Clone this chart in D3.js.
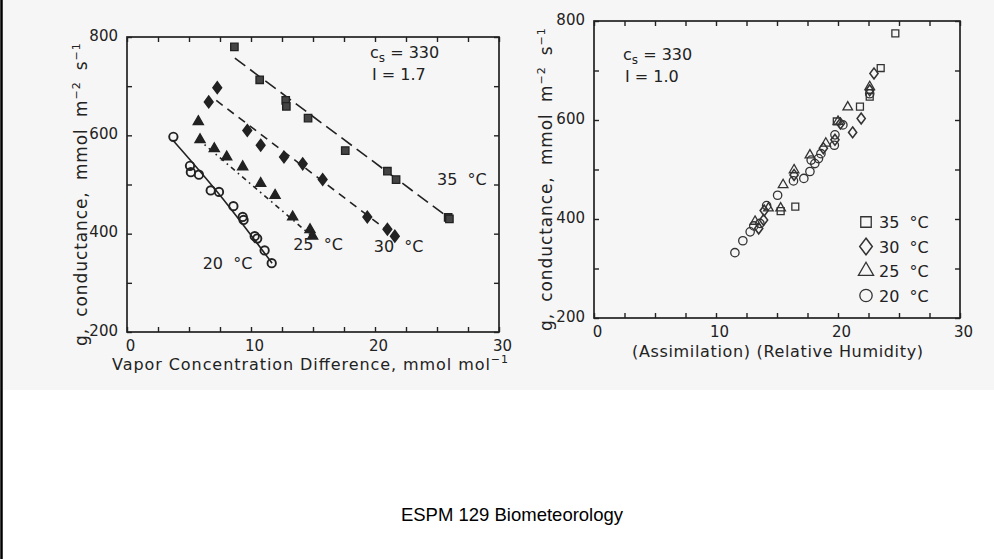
<!DOCTYPE html>
<html><head><meta charset="utf-8">
<script src="https://cdn.jsdelivr.net/npm/d3@7"></script>
<style>
html,body{margin:0;padding:0;background:#fff;}
svg{display:block;}
text{font-family:"DejaVu Sans",sans-serif;fill:#222;}
</style></head>
<body>
<svg id="chart" width="994" height="559"></svg>
<script>
// ---------- data ----------
const xTicks = [0, 2.5, 5, 7.5, 10, 12.5, 15, 17.5, 20, 22.5, 25, 27.5, 30];
const xTickLabels = [0, 10, 20, 30];
const yTicks = [200, 300, 400, 500, 600, 700, 800];
const yTickLabels = [200, 400, 600, 800];
const seriesNames = ["35 °C", "30 °C", "25 °C", "20 °C"];

// Left panel: conductance vs vapor concentration difference
const left35X = [8.66, 10.7, 12.8, 12.85, 14.6, 17.6, 21.0, 21.7, 25.9, 26.0];
const left35Y = [780, 713, 671, 659, 635, 569, 527, 510, 433, 430];
const left30X = [6.59, 7.28, 9.70, 10.78, 12.66, 14.17, 15.78, 19.38, 21.0, 21.6];
const left30Y = [668, 697, 610, 580, 556, 542, 510, 434, 409, 395];
const left25X = [5.75, 5.89, 7.04, 8.04, 9.33, 10.78, 11.94, 13.36, 14.76, 14.97];
const left25Y = [628, 591, 573, 556, 536, 502, 478, 434, 408, 395];
const left20X = [3.74, 5.08, 5.15, 5.8, 6.75, 7.42, 8.58, 9.33, 9.4, 10.3, 10.5, 11.1, 11.67];
const left20Y = [597, 538, 525, 520, 488, 485, 456, 434, 428, 395, 390, 366, 340];

// Left panel fitted lines
const fit35X = [8.7, 25.9];  const fit35Y = [757, 433];
const fit30X = [7.2, 21.7];  const fit30Y = [671, 393];
const fit25X = [5.7, 15.0];  const fit25Y = [593, 393];
const fit20X = [3.7, 7.5, 11.7]; const fit20Y = [590, 478, 340];

// Right panel: conductance vs (assimilation)(relative humidity)
const right35X = [24.7, 23.5, 22.6, 21.8, 19.9, 16.5, 15.3];
const right35Y = [775, 705, 647, 627, 597, 425, 416];
const right30X = [22.95, 22.6, 21.9, 21.2, 20.2, 19.75, 18.8, 16.4, 13.95, 13.9, 13.5];
const right30Y = [694, 660, 603, 575, 593, 560, 543, 489, 417, 398, 381];
const right25X = [22.6, 20.8, 20.0, 19.0, 17.7, 16.4, 15.5, 15.3, 14.3, 13.2];
const right25Y = [667, 626, 597, 553, 529, 499, 469, 422, 422, 395];
const right20X = [22.6, 20.4, 19.75, 19.7, 18.6, 18.4, 18.1, 17.8, 17.7, 17.2, 16.35, 15.05, 14.15, 13.6, 13.1, 12.8, 12.2, 11.55];
const right20Y = [653, 590, 570, 549, 532, 522, 512, 519, 496, 482, 477, 448, 427, 391, 386, 374, 356, 332];

// ---------- drawing ----------
const svg = d3.select("#chart");
const ink = "#222";

// scanned page background
svg.append("rect").attr("x", 0).attr("y", 0).attr("width", 994).attr("height", 390).attr("fill", "#f6f6f6");
// slide left border
svg.append("line").attr("x1", 1.5).attr("x2", 1.5).attr("y1", 0).attr("y2", 559)
  .attr("stroke", "#000").attr("stroke-width", 2.5);

const zip = (xs, ys) => xs.map((x, i) => ({x, y: ys[i]}));

function panel(cfg) {
  const x = d3.scaleLinear().domain([0, 30]).range(cfg.xr);
  const y = d3.scaleLinear().domain([200, 800]).range(cfg.yr);
  const g = svg.append("g");
  const fmtX = d => xTickLabels.includes(d) ? d : "";
  const fmtY = d => yTickLabels.includes(d) ? d : "";

  const bottom = g.append("g").attr("transform", `translate(0,${cfg.yr[0]})`)
    .call(d3.axisBottom(x).tickValues(xTicks).tickSize(-5).tickPadding(8).tickFormat(fmtX));
  const top = g.append("g").attr("transform", `translate(0,${cfg.yr[1]})`)
    .call(d3.axisTop(x).tickValues(xTicks).tickSize(-5).tickFormat(""));
  const leftA = g.append("g").attr("transform", `translate(${cfg.xr[0]},0)`)
    .call(d3.axisLeft(y).tickValues(yTicks).tickSize(-5).tickPadding(9).tickFormat(fmtY));
  const rightA = g.append("g").attr("transform", `translate(${cfg.xr[1]},0)`)
    .call(d3.axisRight(y).tickValues(yTicks).tickSize(-5).tickFormat(""));
  [bottom, top, leftA, rightA].forEach(a => {
    a.select(".domain").remove();
    a.selectAll("line").attr("stroke", ink).attr("stroke-width", 1.4);
    a.selectAll("text").style("font-family", '"DejaVu Sans",sans-serif').style("font-size", "15px").attr("fill", ink);
  });
  bottom.selectAll("text").attr("dx", 3);
  leftA.selectAll("text").attr("dy", "0.2em");

  g.append("rect").attr("x", cfg.xr[0]).attr("y", cfg.yr[1])
    .attr("width", cfg.xr[1] - cfg.xr[0]).attr("height", cfg.yr[0] - cfg.yr[1])
    .attr("fill", "none").attr("stroke", ink).attr("stroke-width", 1.7);

  // y title
  const yt = g.append("text")
    .attr("transform", `translate(${cfg.ytx},${cfg.yty}) rotate(-90)`)
    .attr("font-size", 17).style("word-spacing", "5px").style("letter-spacing", "0.9px");
  yt.append("tspan").text("g, conductance, mmol m");
  yt.append("tspan").attr("dy", -7).attr("font-size", 11).text("−2");
  yt.append("tspan").attr("dy", 7).text(" s");
  yt.append("tspan").attr("dy", -7).attr("font-size", 11).text("−1");

  // x title
  const xt = g.append("text").attr("x", cfg.xtx).attr("y", cfg.xty)
    .attr("font-size", 16).attr("textLength", cfg.xtLen).attr("lengthAdjust", "spacing");
  cfg.xTitle(xt);

  // annotation cs / I
  const a1 = g.append("text").attr("x", cfg.ax).attr("y", cfg.ay).attr("font-size", 16);
  a1.append("tspan").text("c");
  a1.append("tspan").attr("dy", 4).attr("font-size", 12).text("s");
  a1.append("tspan").attr("dy", -4).text(" = 330");
  g.append("text").attr("x", cfg.ax + 2).attr("y", cfg.ay + 22).attr("font-size", 16).text(cfg.iText);

  return {g, x, y};
}

const symTypes = [d3.symbolSquare, d3.symbolDiamond, d3.symbolTriangle, d3.symbolCircle];
const symScale = ["", " scale(1.3,1)", "", ""];

// ----- left panel -----
const L = panel({
  xr: [127, 499], yr: [332, 37],
  ytx: 87, yty: 346,
  xtx: 112, xty: 370, xtLen: 396,
  xTitle: t => { t.append("tspan").text("Vapor Concentration Difference, mmol mol");
                 t.append("tspan").attr("dy", -7).attr("font-size", 11).text("−1"); },
  ax: 370, ay: 58, iText: "I = 1.7"
});

const leftSeries = [zip(left35X, left35Y), zip(left30X, left30Y), zip(left25X, left25Y), zip(left20X, left20Y)];
const fits = [zip(fit35X, fit35Y), zip(fit30X, fit30Y), zip(fit25X, fit25Y), zip(fit20X, fit20Y)];
const dashes = ["13,6", "8,6", "5,4,1.6,4", null];
fits.forEach((f, i) => {
  const line = d3.line().x(d => L.x(d.x)).y(d => L.y(d.y)).curve(i === 3 ? d3.curveNatural : d3.curveLinear);
  L.g.append("path").attr("d", line(f)).attr("fill", "none").attr("stroke", ink)
    .attr("stroke-width", 1.6).attr("stroke-dasharray", dashes[i]);
});
const leftFill = ["#444", ink, ink, "none"];
const leftSize = [55, 38, 45, 55];
leftSeries.forEach((s, i) => {
  L.g.selectAll(null).data(s).enter().append("path")
    .attr("transform", d => `translate(${L.x(d.x)},${L.y(d.y)})${symScale[i]}`)
    .attr("d", d3.symbol().type(symTypes[i]).size(leftSize[i]))
    .attr("fill", leftFill[i]).attr("stroke", ink).attr("stroke-width", i === 3 ? 1.9 : 1.3);
});
// series labels
const lblPos = [{x: 25.0, y: 500}, {x: 19.9, y: 363}, {x: 13.4, y: 367}, {x: 6.1, y: 329}];
seriesNames.forEach((n, i) => {
  L.g.append("text").attr("x", L.x(lblPos[i].x)).attr("y", L.y(lblPos[i].y))
    .attr("font-size", 16).attr("xml:space", "preserve").text(n.replace(" ", "  "));
});

// ----- right panel -----
const R = panel({
  xr: [594, 960], yr: [318, 21],
  ytx: 552, yty: 331,
  xtx: 632, xty: 357, xtLen: 291,
  xTitle: t => t.text("(Assimilation) (Relative Humidity)"),
  ax: 623, ay: 60, iText: "I = 1.0"
});
const rightSeries = [zip(right35X, right35Y), zip(right30X, right30Y), zip(right25X, right25Y), zip(right20X, right20Y)];
const rightSize = [48, 34, 40, 55];
rightSeries.forEach((s, i) => {
  R.g.selectAll(null).data(s).enter().append("path")
    .attr("transform", d => `translate(${R.x(d.x)},${R.y(d.y)})${symScale[i]}`)
    .attr("d", d3.symbol().type(symTypes[i]).size(rightSize[i]))
    .attr("fill", "none").attr("stroke", "#333").attr("stroke-width", 1.3);
});
// legend
const legSize = [110, 80, 100, 120];
seriesNames.forEach((n, i) => {
  const ly = 222 + i * 24.5;
  R.g.append("path").attr("transform", `translate(866,${ly})${symScale[i]}`)
    .attr("d", d3.symbol().type(symTypes[i]).size(legSize[i]))
    .attr("fill", "none").attr("stroke", "#333").attr("stroke-width", 1.3);
  R.g.append("text").attr("x", 879).attr("y", ly + 6).attr("font-size", 16)
    .attr("xml:space", "preserve").text(n.replace(" ", "  "));
});

// footer
svg.append("text").attr("x", 512).attr("y", 521).attr("text-anchor", "middle")
  .style("font-family", '"Liberation Sans",Arial,sans-serif').attr("font-size", 18.5).style("fill", "#000")
  .text("ESPM 129 Biometeorology");
</script>
</body></html>
